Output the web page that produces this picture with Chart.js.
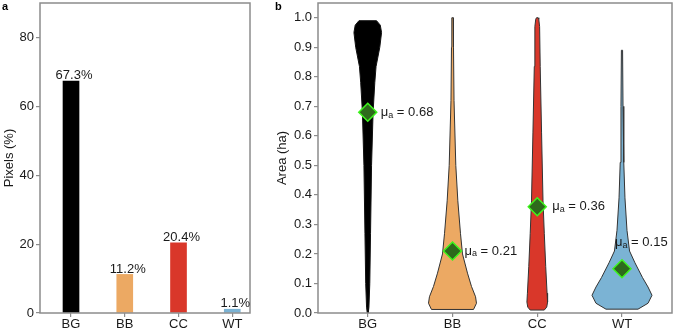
<!DOCTYPE html>
<html>
<head>
<meta charset="utf-8">
<script src="https://cdn.jsdelivr.net/npm/chart.js@4/dist/chart.umd.min.js"></script>
<style>
  body { margin: 0; background: #fff; width: 675px; height: 330px; position: relative; overflow: hidden; }
  #pa { position: absolute; left: 0; top: 0; }
  #pb { position: absolute; left: 258px; top: 0; }
</style>
</head>
<body>
<canvas id="pa" width="252" height="330" style="width:252px;height:330px"></canvas>
<canvas id="pb" width="417" height="330" style="width:417px;height:330px"></canvas>
<script>
// data
const categories = ['BG', 'BB', 'CC', 'WT'];
const pixelShare = [67.3, 11.2, 20.4, 1.1];
const pixelTicks = [0, 20, 40, 60, 80];
const areaTicks = [0, 0.1, 0.2, 0.3, 0.4, 0.5, 0.6, 0.7, 0.8, 0.9, 1.0];
const meanArea = [0.68, 0.21, 0.36, 0.15];

// violin outlines: area levels (ha) and half widths (category units)
const bgLevels = [0.0, 0.02, 0.1, 0.27, 0.5, 0.68, 0.78, 0.835, 0.9, 0.95, 0.975, 0.99];
const bgWidths = [0.006, 0.014, 0.024, 0.033, 0.045, 0.063, 0.083, 0.098, 0.142, 0.163, 0.148, 0.104];
const bbLevels = [0.012, 0.033, 0.055, 0.09, 0.135, 0.2, 0.27, 0.38, 0.5, 0.72, 0.9, 1.0];
const bbWidths = [0.248, 0.283, 0.272, 0.224, 0.177, 0.118, 0.094, 0.063, 0.039, 0.018, 0.012, 0.008];
const ccLevels = [0.01, 0.02, 0.037, 0.067, 0.157, 0.27, 0.38, 0.61, 0.835, 0.97, 0.995, 1.0];
const ccWidths = [0.083, 0.112, 0.122, 0.116, 0.100, 0.083, 0.068, 0.051, 0.035, 0.028, 0.018, 0.009];
const wtLevels = [0.013, 0.033, 0.06, 0.088, 0.12, 0.17, 0.21, 0.28, 0.39, 0.51, 0.7, 0.89];
const wtWidths = [0.189, 0.307, 0.354, 0.307, 0.242, 0.153, 0.089, 0.059, 0.035, 0.021, 0.012, 0.007];

const colors = ['#000000', '#ECA963', '#D9372A', '#7BB3D4'];
const frameColor = '#8c8c8c';
const textColor = '#1a1a1a';
const font = { family: "'Liberation Sans', Arial, sans-serif", size: 13 };

// label offsets in px from each mean marker
const labelDx = [13, 12, 15, -7];
const labelDy = [0, 0, 0, -26];

function polygon(center, levels, widths) {
  const left = levels.map((v, i) => ({ x: center - widths[i], y: v }));
  const right = levels.map((v, i) => ({ x: center + widths[i], y: v })).reverse();
  return left.concat(right, [left[0]]);
}

function yAxis(ticks, width, title, titlePad, fmt) {
  return {
    afterBuildTicks: s => { s.ticks = ticks.map(v => ({ value: v })); },
    afterFit: s => { s.width = width; s.paddingTop = 0; s.paddingBottom = 0; },
    grid: { display: true, drawOnChartArea: false, drawTicks: true, tickLength: 4, color: frameColor, lineWidth: 1.2 },
    border: { display: false },
    ticks: { font, color: textColor, padding: 2, callback: fmt },
    title: { display: true, text: title, font, color: textColor, padding: { top: titlePad, bottom: 0 } }
  };
}

function xAxis(min, max) {
  return {
    type: 'linear', min, max, offset: false,
    afterBuildTicks: s => { s.ticks = categories.map((c, i) => ({ value: i })); },
    afterFit: s => { s.height = 17; s.paddingLeft = 0; s.paddingRight = 0; },
    grid: { display: true, drawOnChartArea: false, drawTicks: true, tickLength: 4, color: frameColor, lineWidth: 1.2, offset: false },
    border: { display: false },
    ticks: { font, color: textColor, padding: 0, maxRotation: 0, autoSkip: false, callback: v => categories[v] }
  };
}

const framePlugin = {
  id: 'frame',
  afterDatasetsDraw(chart) {
    const { ctx, chartArea: a } = chart;
    ctx.save();
    ctx.strokeStyle = frameColor;
    ctx.lineWidth = 1.5;
    ctx.strokeRect(a.left, a.top, a.right - a.left, a.bottom - a.top);
    ctx.restore();
  },
  afterDraw(chart, args, opts) {
    const ctx = chart.ctx;
    ctx.save();
    ctx.fillStyle = '#000';
    ctx.font = "bold 11px 'Liberation Sans', Arial, sans-serif";
    ctx.textBaseline = 'alphabetic';
    ctx.fillText(opts.letter, opts.lx, 10);
    ctx.restore();
  }
};

const barLabels = {
  id: 'barLabels',
  afterDatasetsDraw(chart) {
    const { ctx, scales: { x, y } } = chart;
    ctx.save();
    ctx.font = "13px 'Liberation Sans', Arial, sans-serif";
    ctx.fillStyle = textColor;
    ctx.textAlign = 'center';
    ctx.textBaseline = 'bottom';
    pixelShare.forEach((v, i) => {
      ctx.fillText(v.toFixed(1) + '%', x.getPixelForValue(i) + 3, y.getPixelForValue(v) + 1);
    });
    ctx.restore();
  }
};

const meanLabels = {
  id: 'meanLabels',
  afterDatasetsDraw(chart) {
    const { ctx, scales: { x, y } } = chart;
    ctx.save();
    ctx.fillStyle = textColor;
    ctx.textAlign = 'left';
    ctx.textBaseline = 'middle';
    meanArea.forEach((m, i) => {
      let px = x.getPixelForValue(i) + labelDx[i];
      const py = y.getPixelForValue(m) + labelDy[i];
      ctx.font = "13px 'Liberation Sans', Arial, sans-serif";
      ctx.fillText('μ', px, py);
      px += ctx.measureText('μ').width;
      ctx.font = "9px 'Liberation Sans', Arial, sans-serif";
      ctx.fillText('a', px, py + 3);
      px += ctx.measureText('a').width;
      ctx.font = "13px 'Liberation Sans', Arial, sans-serif";
      ctx.fillText(' = ' + m.toFixed(2), px, py);
    });
    ctx.restore();
  }
};

new Chart(document.getElementById('pa'), {
  type: 'bar',
  data: {
    datasets: [{
      data: pixelShare.map((v, i) => ({ x: i, y: v })),
      backgroundColor: colors,
      barThickness: 16,
      borderWidth: 0
    }]
  },
  options: {
    responsive: false,
    animation: false,
    layout: { autoPadding: false, padding: { top: 3, right: 2, left: 0, bottom: 0 } },
    plugins: { legend: { display: false }, tooltip: { enabled: false }, frame: { letter: 'a', lx: 2 } },
    scales: {
      x: xAxis(-0.577, 3.33),
      y: Object.assign({ min: 0, max: 90 }, yAxis(pixelTicks, 40, 'Pixels (%)', 2, v => String(v)))
    }
  },
  plugins: [framePlugin, barLabels]
});

const violinData = [
  [bgLevels, bgWidths], [bbLevels, bbWidths], [ccLevels, ccWidths], [wtLevels, wtWidths]
];

new Chart(document.getElementById('pb'), {
  type: 'scatter',
  data: {
    datasets: [{
      data: meanArea.map((m, i) => ({ x: i, y: m })),
      pointStyle: 'rectRot',
      pointRadius: 9,
      backgroundColor: '#2E6A1C',
      borderColor: '#3DF51C',
      borderWidth: 1.5,
      order: 0
    }].concat(violinData.map((d, i) => ({
      data: polygon(i, d[0], d[1]),
      showLine: true,
      fill: 'shape',
      backgroundColor: colors[i],
      borderColor: i === 0 ? '#111' : '#333',
      borderWidth: 1,
      pointRadius: 0,
      tension: 0,
      order: 1
    })))
  },
  options: {
    responsive: false,
    animation: false,
    layout: { autoPadding: false, padding: { top: 3, right: 3, left: 0, bottom: 0 } },
    plugins: { legend: { display: false }, tooltip: { enabled: false }, frame: { letter: 'b', lx: 17 } },
    scales: {
      x: xAxis(-0.587, 3.59),
      y: Object.assign({ min: 0, max: 1.05 }, yAxis(areaTicks, 60, 'Area (ha)', 17, v => v.toFixed(1)))
    }
  },
  plugins: [framePlugin, meanLabels]
});
</script>
</body>
</html>
